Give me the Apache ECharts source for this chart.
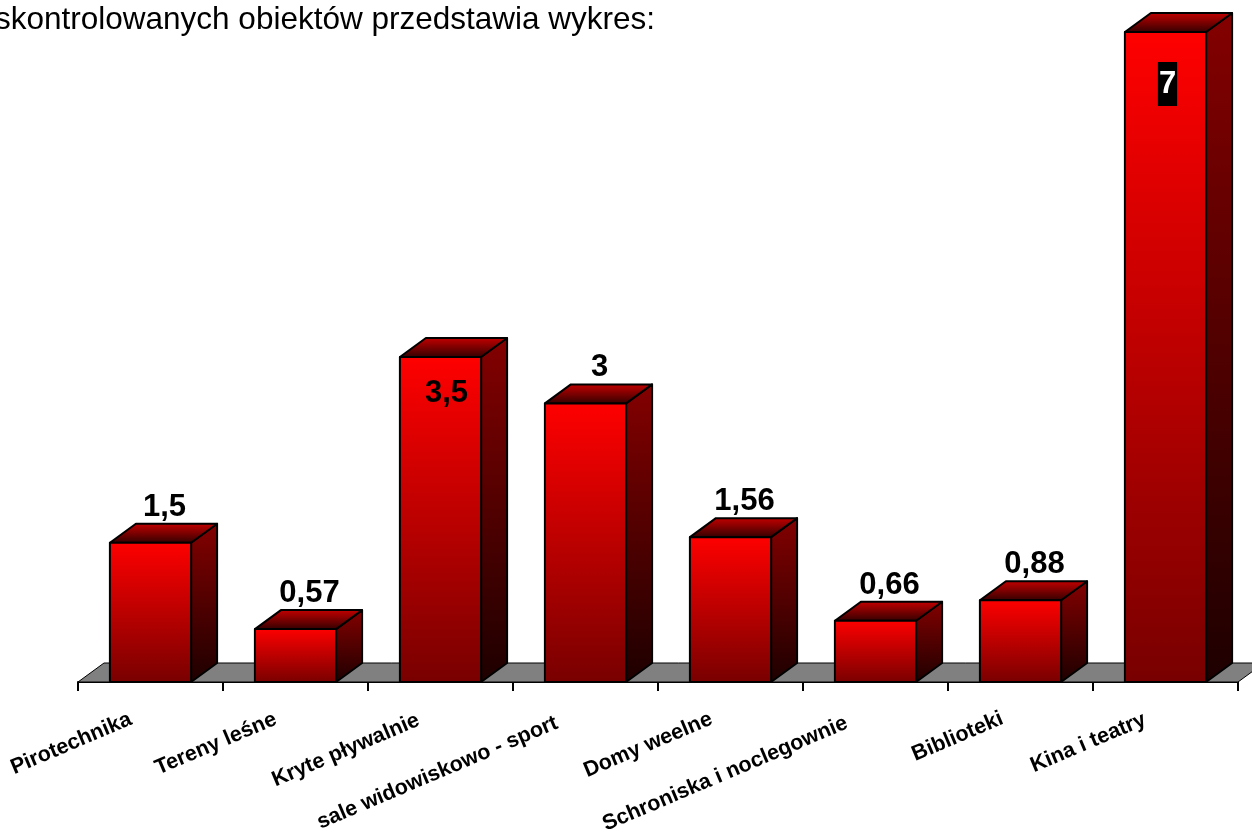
<!DOCTYPE html>
<html>
<head>
<meta charset="utf-8">
<style>html,body{margin:0;padding:0;background:#fff}#c{width:1252px;height:834px}</style>
<script src="https://cdn.jsdelivr.net/npm/echarts@6/dist/echarts.min.js"></script>
</head>
<body>
<div id="c"></div>
<script>
const categories = ['Pirotechnika','Tereny leśne','Kryte pływalnie','sale widowiskowo - sport','Domy weelne','Schroniska i noclegownie','Biblioteki','Kina i teatry'];
const values = [1.5,0.57,3.5,3,1.56,0.66,0.88,7];
const valueLabels = ['1,5','0,57','3,5','3','1,56','0,66','0,88','7'];
const labelKinds = ['above','above','inside','above','above','above','above','boxed'];
const heading = 'skontrolowanych obiektów przedstawia wykres:';

const FONT = '"Liberation Sans", Arial, sans-serif';
const DX = 26, DY = 19;
const grad = (a, b) => new echarts.graphic.LinearGradient(0, 0, 0, 1, [{offset: 0, color: a}, {offset: 1, color: b}]);
const edge = {stroke: '#000', lineWidth: 2, lineJoin: 'round'};

function poly(points, fill) {
  return {type: 'polygon', shape: {points}, style: Object.assign({fill}, edge)};
}

function renderBar(params, api) {
  const i = api.value(0);
  const top = api.coord([i, api.value(1)]);
  const base = api.coord([i, 0]);
  const w = api.size([1, 0])[0] * 0.56;
  const l = top[0] - w / 2, r = top[0] + w / 2, t = top[1], b = base[1];
  const kind = labelKinds[i];
  let text;
  const common = {text: valueLabels[i], fontFamily: FONT, fontWeight: 'bold', fontSize: 31, align: 'center'};
  if (kind === 'above') {
    text = {x: top[0] + DX / 2 + 1, y: t - DY - 1, style: Object.assign({}, common, {fill: '#000', verticalAlign: 'bottom'})};
  } else if (kind === 'inside') {
    text = {x: top[0] + 6, y: t + 36, style: Object.assign({}, common, {fill: '#000', verticalAlign: 'middle'})};
  } else {
    text = {x: top[0] + 2, y: t + 52, style: Object.assign({}, common, {fill: '#fff', verticalAlign: 'middle', backgroundColor: '#000', padding: [7, 1, 6, 1]})};
  }
  return {
    type: 'group',
    children: [
      poly([[r, t], [r + DX, t - DY], [r + DX, b - DY], [r, b]], grad('#840000', '#1e0000')),
      poly([[l, t], [l + DX, t - DY], [r + DX, t - DY], [r, t]], grad('#c80000', '#300000')),
      poly([[l, t], [r, t], [r, b], [l, b]], grad('#ff0000', '#780000')),
      Object.assign({type: 'text', z2: 10}, text)
    ]
  };
}

function renderFloor(params, api) {
  const c = params.coordSys;
  const b = c.y + c.height, l = c.x, r = c.x + c.width;
  return {
    type: 'polygon',
    shape: {points: [[l, b], [l + DX, b - DY], [r + DX, b - DY], [r, b]]},
    style: {fill: '#808080', stroke: '#000', lineWidth: 1}
  };
}

const chart = echarts.init(document.getElementById('c'), null, {renderer: 'canvas'});
chart.setOption({
  animation: false,
  backgroundColor: '#fff',
  title: {
    text: heading, left: -10, top: -1,
    textStyle: {fontFamily: FONT, fontSize: 31.5, fontWeight: 'normal', color: '#000'}
  },
  grid: {left: 78, top: 32, width: 1160, bottom: 152, containLabel: false, outerBoundsMode: 'none'},
  xAxis: {
    type: 'category',
    data: categories.map(name => ({value: name, textStyle: {padding: [0, 12 + name.length * 0.8, 0, 0]}})),
    boundaryGap: true,
    axisLine: {show: true, lineStyle: {color: '#000', width: 2}},
    axisTick: {show: true, length: 9, lineStyle: {color: '#000', width: 2}, alignWithLabel: false},
    axisLabel: {
      interval: 0, rotate: 23, margin: 28,
      fontFamily: FONT, fontSize: 21.5, fontWeight: 'bold', color: '#000'
    }
  },
  yAxis: {type: 'value', min: 0, max: 7, show: false, splitLine: {show: false}},
  series: [
    {type: 'custom', renderItem: renderFloor, data: [0], z: 1, silent: true, clip: false},
    {
      type: 'custom', renderItem: renderBar, z: 3, silent: true, clip: false,
      encode: {x: 0, y: 1},
      data: values.map((v, i) => [i, v])
    }
  ]
});
</script>
</body>
</html>
